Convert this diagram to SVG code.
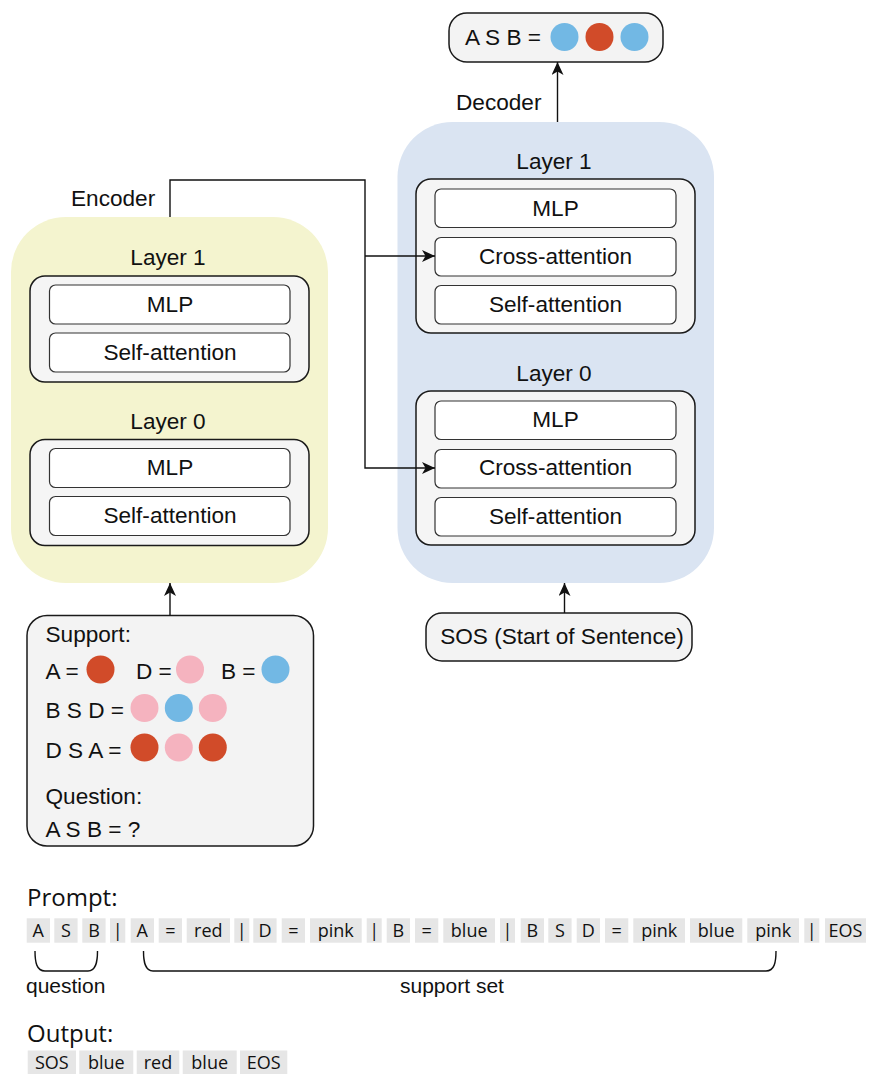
<svg xmlns="http://www.w3.org/2000/svg" width="870" height="1074" viewBox="0 0 870 1074">
<defs>
<marker id="arr" markerUnits="userSpaceOnUse" viewBox="0 0 13 12" refX="13" refY="6" markerWidth="13" markerHeight="12" orient="auto">
<path d="M0,0 L13,6 L0,12 L3.5,6 Z" fill="#111"/>
</marker>
<style>
.t{font-family:"Liberation Sans",Arial,sans-serif;font-size:22.6px;fill:#111}
.c{text-anchor:middle}
.layer{fill:#f5f5f5;stroke:#1a1a1a;stroke-width:1.5}
.sub{fill:#fff;stroke:#333;stroke-width:1.2}
.pill{fill:#f3f3f3;stroke:#1a1a1a;stroke-width:1.5}
.line{fill:none;stroke:#111;stroke-width:1.4}
.tok{fill:#e6e6e6}
.tt{font-family:"Open Sans","Noto Sans",sans-serif;font-size:18px;fill:#111;text-anchor:middle}
.hd{font-family:"Open Sans","Noto Sans",sans-serif;font-size:24px;fill:#111}
.red{fill:#d14b29}.pink{fill:#f5b3bf}.blue{fill:#72b8e4}
</style>
</defs>

<g id="encoder">
<rect x="11" y="217" width="317" height="366" rx="55" fill="#f4f4cf"/>
<text class="t" x="71" y="206">Encoder</text>
</g>
<g id="enc-layer1">
<text class="t c" x="168" y="265">Layer 1</text>
<rect class="layer" x="30" y="276" width="279" height="106" rx="15"/>
<rect class="sub" x="49.5" y="285" width="240.5" height="39" rx="6"/>
<text class="t c" x="170" y="311.5">MLP</text>
<rect class="sub" x="49.5" y="333" width="240.5" height="39" rx="6"/>
<text class="t c" x="170" y="359.5">Self-attention</text>
</g>
<g id="enc-layer0">
<text class="t c" x="168" y="429">Layer 0</text>
<rect class="layer" x="30" y="439.5" width="279" height="106" rx="15"/>
<rect class="sub" x="49.5" y="448.5" width="240.5" height="39" rx="6"/>
<text class="t c" x="170" y="475">MLP</text>
<rect class="sub" x="49.5" y="496.5" width="240.5" height="39" rx="6"/>
<text class="t c" x="170" y="523">Self-attention</text>
</g>

<g id="decoder">
<rect x="397.5" y="122" width="316.5" height="461" rx="55" fill="#dae4f2"/>
<text class="t" x="456" y="110">Decoder</text>
</g>
<g id="dec-layer1">
<text class="t c" x="554" y="169">Layer 1</text>
<rect class="layer" x="416" y="179" width="279" height="154" rx="15"/>
<rect class="sub" x="435" y="189" width="241" height="38.5" rx="6"/>
<text class="t c" x="555.5" y="215.5">MLP</text>
<rect class="sub" x="435" y="237.5" width="241" height="38.5" rx="6"/>
<text class="t c" x="555.5" y="263.5">Cross-attention</text>
<rect class="sub" x="435" y="285.5" width="241" height="38.5" rx="6"/>
<text class="t c" x="555.5" y="311.5">Self-attention</text>
</g>
<g id="dec-layer0">
<text class="t c" x="554" y="381">Layer 0</text>
<rect class="layer" x="416" y="391" width="279" height="154" rx="15"/>
<rect class="sub" x="435" y="401" width="241" height="38.5" rx="6"/>
<text class="t c" x="555.5" y="426.5">MLP</text>
<rect class="sub" x="435" y="449.5" width="241" height="38.5" rx="6"/>
<text class="t c" x="555.5" y="475">Cross-attention</text>
<rect class="sub" x="435" y="497.5" width="241" height="38.5" rx="6"/>
<text class="t c" x="555.5" y="523.5">Self-attention</text>
</g>

<g id="output-box">
<rect class="pill" x="449" y="13" width="214" height="49" rx="18"/>
<text class="t" x="465" y="45">A S B =</text>
<circle class="blue" cx="564.5" cy="37" r="14"/>
<circle class="red" cx="599.5" cy="37" r="14"/>
<circle class="blue" cx="634.5" cy="37" r="14"/>
</g>

<g id="sos-box">
<rect class="pill" x="426" y="613" width="266" height="48" rx="16"/>
<text class="t c" x="562" y="644">SOS (Start of Sentence)</text>
</g>

<g id="support-box">
<rect class="pill" x="27" y="615.5" width="286.5" height="230.5" rx="20"/>
<text class="t" x="45.5" y="642">Support:</text>
<text class="t" x="45.5" y="679">A =</text>
<circle class="red" cx="100.5" cy="669.5" r="14"/>
<text class="t" x="136" y="679">D =</text>
<circle class="pink" cx="190" cy="669.5" r="14"/>
<text class="t" x="221" y="679">B =</text>
<circle class="blue" cx="275.5" cy="669.5" r="14"/>
<text class="t" x="45.5" y="718">B S D =</text>
<circle class="pink" cx="144.5" cy="708" r="14"/>
<circle class="blue" cx="178.8" cy="708" r="14"/>
<circle class="pink" cx="212.8" cy="708" r="14"/>
<text class="t" x="45.5" y="757.5">D S A =</text>
<circle class="red" cx="144.5" cy="747.5" r="14"/>
<circle class="pink" cx="178.8" cy="747.5" r="14"/>
<circle class="red" cx="212.8" cy="747.5" r="14"/>
<text class="t" x="45.5" y="804">Question:</text>
<text class="t" x="45.5" y="837">A S B = ?</text>
</g>

<g id="connectors">
<path class="line" d="M557.5,122 V62" marker-end="url(#arr)"/>
<path class="line" d="M564.5,613 V583" marker-end="url(#arr)"/>
<path class="line" d="M170,615.5 V583" marker-end="url(#arr)"/>
<path class="line" d="M170,217 V180 H365 V468 H435" marker-end="url(#arr)"/>
<path class="line" d="M365,256 H435" marker-end="url(#arr)"/>
</g>

<g id="prompt">
<text class="hd" x="27" y="906">Prompt:</text>
<g id="prompt-tokens">
<rect class="tok" x="26.7" y="918.3" width="23.3" height="24.4"/><text class="tt" x="38.3" y="936.5">A</text>
<rect class="tok" x="54.3" y="918.3" width="23.3" height="24.4"/><text class="tt" x="66" y="936.5">S</text>
<rect class="tok" x="82.3" y="918.3" width="23.3" height="24.4"/><text class="tt" x="94" y="936.5">B</text>
<rect class="tok" x="110" y="918.3" width="15.3" height="24.4"/><text class="tt" x="117.7" y="936.5">|</text>
<rect class="tok" x="130.7" y="918.3" width="23.3" height="24.4"/><text class="tt" x="142.3" y="936.5">A</text>
<rect class="tok" x="158.7" y="918.3" width="23.3" height="24.4"/><text class="tt" x="170.3" y="936.5">=</text>
<rect class="tok" x="186.7" y="918.3" width="43.3" height="24.4"/><text class="tt" x="208.3" y="936.5">red</text>
<rect class="tok" x="234.3" y="918.3" width="15" height="24.4"/><text class="tt" x="241.8" y="936.5">|</text>
<rect class="tok" x="253.3" y="918.3" width="23.3" height="24.4"/><text class="tt" x="265" y="936.5">D</text>
<rect class="tok" x="281.7" y="918.3" width="23.3" height="24.4"/><text class="tt" x="293.3" y="936.5">=</text>
<rect class="tok" x="310" y="918.3" width="51.7" height="24.4"/><text class="tt" x="335.8" y="936.5">pink</text>
<rect class="tok" x="366.7" y="918.3" width="15" height="24.4"/><text class="tt" x="374.2" y="936.5">|</text>
<rect class="tok" x="386.7" y="918.3" width="23.3" height="24.4"/><text class="tt" x="398.3" y="936.5">B</text>
<rect class="tok" x="415" y="918.3" width="23.3" height="24.4"/><text class="tt" x="426.7" y="936.5">=</text>
<rect class="tok" x="443.3" y="918.3" width="51.7" height="24.4"/><text class="tt" x="469.2" y="936.5">blue</text>
<rect class="tok" x="500" y="918.3" width="15" height="24.4"/><text class="tt" x="507.5" y="936.5">|</text>
<rect class="tok" x="520.7" y="918.3" width="23.3" height="24.4"/><text class="tt" x="532.3" y="936.5">B</text>
<rect class="tok" x="548.3" y="918.3" width="23.3" height="24.4"/><text class="tt" x="560" y="936.5">S</text>
<rect class="tok" x="576.7" y="918.3" width="23.3" height="24.4"/><text class="tt" x="588.3" y="936.5">D</text>
<rect class="tok" x="605" y="918.3" width="23.3" height="24.4"/><text class="tt" x="616.7" y="936.5">=</text>
<rect class="tok" x="633.3" y="918.3" width="51.7" height="24.4"/><text class="tt" x="659.2" y="936.5">pink</text>
<rect class="tok" x="690" y="918.3" width="52.3" height="24.4"/><text class="tt" x="716.2" y="936.5">blue</text>
<rect class="tok" x="747.3" y="918.3" width="51.7" height="24.4"/><text class="tt" x="773.2" y="936.5">pink</text>
<rect class="tok" x="804.3" y="918.3" width="15" height="24.4"/><text class="tt" x="811.8" y="936.5">|</text>
<rect class="tok" x="825" y="918.3" width="41" height="24.4"/><text class="tt" x="845.5" y="936.5">EOS</text>
</g>
<path class="line" d="M35,951 C35,962 36.5,971 45,971 L88,971 C96,971 97.5,962 97.5,951"/>
<path class="line" d="M143.5,951 C143.5,962 145,971 153,971 L766,971 C774.5,971 776,962 776,951"/>
<text class="t" x="26" y="993" style="font-size:21px">question</text>
<text class="t" x="400" y="993" style="font-size:21px">support set</text>
</g>

<g id="output">
<text class="hd" x="27" y="1042">Output:</text>
<rect class="tok" x="27.7" y="1050.5" width="48.3" height="24"/><text class="tt" x="51.8" y="1068.5">SOS</text>
<rect class="tok" x="79.3" y="1050.5" width="54" height="24"/><text class="tt" x="106.3" y="1068.5">blue</text>
<rect class="tok" x="136.7" y="1050.5" width="42.6" height="24"/><text class="tt" x="158" y="1068.5">red</text>
<rect class="tok" x="182.7" y="1050.5" width="54" height="24"/><text class="tt" x="209.7" y="1068.5">blue</text>
<rect class="tok" x="240" y="1050.5" width="47.3" height="24"/><text class="tt" x="263.6" y="1068.5">EOS</text>
</g>
</svg>
